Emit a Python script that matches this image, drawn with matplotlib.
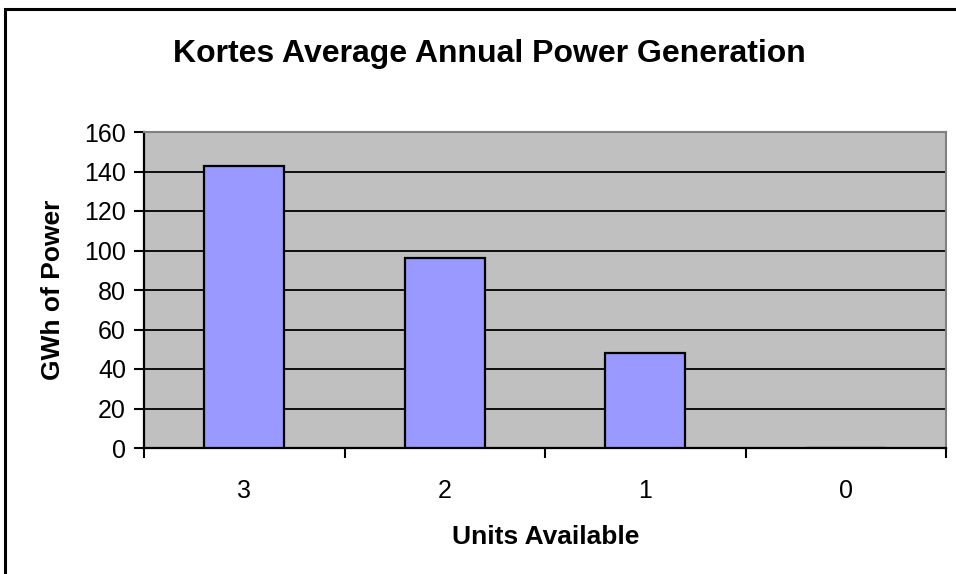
import matplotlib
matplotlib.use("Agg")
import matplotlib.pyplot as plt
from matplotlib.patches import Rectangle

categories = ["3", "2", "1", "0"]
values = [143, 96, 48, 0]
yticks = [0, 20, 40, 60, 80, 100, 120, 140, 160]

plt.rcParams['font.family'] = ['Liberation Sans', 'DejaVu Sans']

W, H = 956, 574
fig = plt.figure(figsize=(W/100, H/100), dpi=100)
fig.patch.set_facecolor('white')
ax = fig.add_axes([144/W, 1-448/H, (946-144)/W, (448-132)/H])
ax.set_facecolor('#C0C0C0')

x = list(range(len(categories)))
ax.bar(x, values, width=0.4, color='#9999FF', edgecolor='black', linewidth=1.6, zorder=3)

ax.set_xlim(-0.5, len(categories) - 0.5)
ax.set_ylim(0, 160)
ax.set_yticks(yticks)
ax.set_yticklabels([str(v) for v in yticks], fontsize=18)
ax.yaxis.grid(True, color='black', linewidth=1.3, zorder=1)
ax.set_axisbelow(True)

ax.set_xticks([i + 0.5 for i in range(-1, len(categories))])
ax.set_xticklabels([])
ax.set_xticks(x, minor=True)
ax.set_xticklabels(categories, minor=True, fontsize=18)
ax.tick_params(axis='x', which='major', direction='out', length=7, width=1.5, color='black')
ax.tick_params(axis='x', which='minor', length=0, pad=22)
ax.tick_params(axis='y', direction='out', length=7, width=1.5, pad=6)

for s in ['left', 'bottom']:
    ax.spines[s].set_color('black')
    ax.spines[s].set_linewidth(1.6)
for s in ['top', 'right']:
    ax.spines[s].set_color('#808080')
    ax.spines[s].set_linewidth(1.5)

fig.text(489/W, 1-54/H, "Kortes Average Annual Power Generation", fontsize=23,
         fontweight='bold', ha='center', va='center')
fig.text(546/W, 1-537/H, "Units Available", fontsize=19, fontweight='bold',
         ha='center', va='center')
fig.text(53/W, 1-290/H, "GWh of Power", fontsize=19, fontweight='bold',
         ha='center', va='center', rotation=90)

fig.add_artist(Rectangle((4.5/W, -0.1), 1.2, (H-8.5)/H + 0.1, transform=fig.transFigure,
                         fill=False, edgecolor='black', linewidth=2.2, clip_on=False))

fig.savefig("out.png", dpi=100)
